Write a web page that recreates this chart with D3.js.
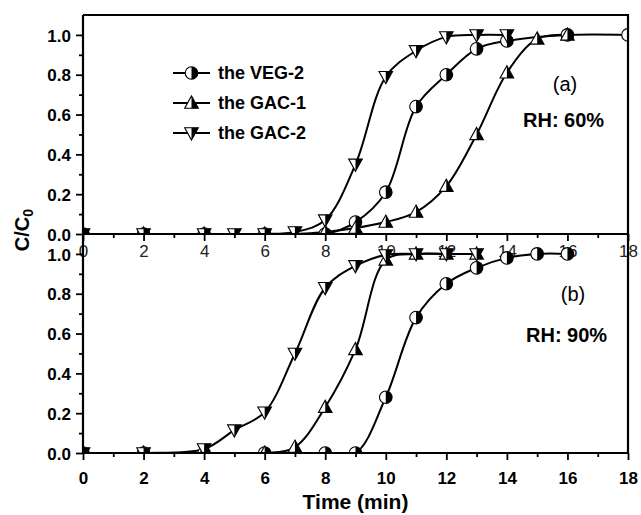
<!DOCTYPE html>
<html>
<head>
<meta charset="utf-8">
<script src="https://cdn.jsdelivr.net/npm/d3@7"></script>
<style>
  html, body { margin: 0; padding: 0; background: #fff; }
  svg { display: block; font-family: "Liberation Sans", Arial, sans-serif; }
</style>
</head>
<body>
<svg id="chart" width="641" height="515"></svg>
<script>
// Breakthrough curves, time in minutes vs C/C0
const xTicks = [0, 2, 4, 6, 8, 10, 12, 14, 16, 18];
const yTicks = [0.0, 0.2, 0.4, 0.6, 0.8, 1.0];
const seriesNames = ["the VEG-2", "the GAC-1", "the GAC-2"];

// Panel (a): RH 60%
const vegA_t = [0, 2, 4, 6, 8, 9, 10, 11, 12, 13, 14, 16, 18];
const vegA_c = [0, 0, 0, 0, 0, 0.06, 0.21, 0.64, 0.80, 0.93, 0.97, 1.0, 1.0];
const gac1A_t = [0, 2, 4, 6, 7, 8, 9, 10, 11, 12, 13, 14, 15, 16];
const gac1A_c = [0, 0, 0, 0, 0, 0.01, 0.03, 0.06, 0.11, 0.24, 0.50, 0.81, 0.98, 1.0];
const gac2A_t = [0, 2, 4, 5, 6, 7, 8, 9, 10, 11, 12, 13, 14];
const gac2A_c = [0, 0, 0, 0, 0, 0.01, 0.07, 0.35, 0.79, 0.92, 0.99, 1.0, 1.0];

// Panel (b): RH 90%
const vegB_t = [0, 2, 4, 6, 8, 9, 10, 11, 12, 13, 14, 15, 16];
const vegB_c = [0, 0, 0, 0, 0, 0, 0.28, 0.68, 0.85, 0.93, 0.98, 1.0, 1.0];
const gac1B_t = [0, 2, 4, 6, 7, 8, 9, 10, 11, 12, 13];
const gac1B_c = [0, 0, 0, 0, 0.03, 0.23, 0.52, 0.97, 1.0, 1.0, 1.0];
const gac2B_t = [0, 2, 4, 5, 6, 7, 8, 9, 10, 11, 12, 13];
const gac2B_c = [0, 0, 0.02, 0.115, 0.205, 0.50, 0.83, 0.94, 0.995, 1.0, 1.0, 1.0];

const svg = d3.select("#chart");
const FONT = "'Liberation Sans', Arial, sans-serif";

const x = d3.scaleLinear().domain([0, 18]).range([83, 628]);
const panels = [
  { id: "a", y: d3.scaleLinear().domain([0, 1.1]).range([234, 15]),
    label: "(a)", rh: "RH: 60%", labelPos: [565, 91], rhPos: [523, 127],
    series: [
      { name: seriesNames[0], t: vegA_t, c: vegA_c, shape: "circle" },
      { name: seriesNames[1], t: gac1A_t, c: gac1A_c, shape: "up" },
      { name: seriesNames[2], t: gac2A_t, c: gac2A_c, shape: "down" }
    ] },
  { id: "b", y: d3.scaleLinear().domain([0, 1.1]).range([453, 234]),
    label: "(b)", rh: "RH: 90%", labelPos: [573, 301], rhPos: [526, 342],
    series: [
      { name: seriesNames[0], t: vegB_t, c: vegB_c, shape: "circle" },
      { name: seriesNames[1], t: gac1B_t, c: gac1B_c, shape: "up" },
      { name: seriesNames[2], t: gac2B_t, c: gac2B_c, shape: "down" }
    ] }
];

// Half-filled marker shapes: white outline shape with its right half in black
const markerShapes = {
  circle: { full: "M6.3,0A6.3,6.3 0 1,1 -6.3,0A6.3,6.3 0 1,1 6.3,0Z", half: "M0,-6.3A6.3,6.3 0 0,1 0,6.3Z" },
  up:     { full: "M0,-7L6.8,5.2L-6.8,5.2Z", half: "M0,-7L6.8,5.2L0,5.2Z" },
  down:   { full: "M0,7L6.8,-5.2L-6.8,-5.2Z", half: "M0,7L6.8,-5.2L0,-5.2Z" }
};

function drawMarker(g, shape, cx, cy) {
  const m = g.append("g").attr("transform", `translate(${cx},${cy})`);
  m.append("path").attr("d", markerShapes[shape].full)
    .attr("fill", "#fff").attr("stroke", "none");
  m.append("path").attr("d", markerShapes[shape].half)
    .attr("fill", "#000").attr("stroke", "none");
  m.append("path").attr("d", markerShapes[shape].full)
    .attr("fill", "none").attr("stroke", "#000").attr("stroke-width", 1.1);
}

const line = (y) => d3.line()
  .x(d => x(d[0])).y(d => y(d[1]))
  .curve(d3.curveCatmullRom.alpha(0.5));

panels.forEach(p => {
  const y = p.y;
  const clipId = "clip-" + p.id;
  svg.append("clipPath").attr("id", clipId)
    .append("rect")
    .attr("x", x(0)).attr("y", y.range()[1])
    .attr("width", x(18) - x(0)).attr("height", y.range()[0] - y.range()[1]);

  const plot = svg.append("g").attr("clip-path", `url(#${clipId})`);

  p.series.forEach(s => {
    const pts = s.t.map((t, i) => [t, s.c[i]]);
    plot.append("path").datum(pts)
      .attr("d", line(y))
      .attr("fill", "none").attr("stroke", "#000").attr("stroke-width", 2);
  });
  p.series.forEach(s => {
    s.t.forEach((t, i) => drawMarker(plot, s.shape, x(t), y(s.c[i])));
  });

  // Y axis: major and minor ticks
  const yMinor = d3.range(0.1, 1.05, 0.2);
  svg.append("g").attr("transform", `translate(${x(0)},0)`)
    .call(d3.axisLeft(y).tickValues(yMinor).tickSize(4).tickSizeOuter(0).tickFormat(""))
    .call(g => g.select(".domain").remove())
    .call(g => g.selectAll("line").attr("stroke-width", 1.8));
  svg.append("g").attr("transform", `translate(${x(0)},0)`)
    .call(d3.axisLeft(y).tickValues(yTicks).tickSize(7).tickSizeOuter(0)
      .tickFormat(d3.format(".1f")).tickPadding(5))
    .call(g => g.select(".domain").remove())
    .call(g => g.selectAll("line").attr("stroke-width", 1.8))
    .call(g => g.selectAll("text")
      .attr("font-family", FONT).attr("font-size", 17).attr("font-weight", "bold")
      .attr("fill", "#000").attr("dy", "0.36em"));

  // X axis for this panel
  const xMinor = d3.range(1, 18, 2);
  const base = y(0);
  svg.append("g").attr("transform", `translate(0,${base})`)
    .call(d3.axisBottom(x).tickValues(xMinor).tickSize(4).tickSizeOuter(0).tickFormat(""))
    .call(g => g.select(".domain").remove())
    .call(g => g.selectAll("line").attr("stroke-width", 1.8));
  const isBottom = p.id === "b";
  svg.append("g").attr("transform", `translate(0,${base})`)
    .call(d3.axisBottom(x).tickValues(xTicks).tickSize(7).tickSizeOuter(0)
      .tickFormat(d3.format("d")).tickPadding(isBottom ? 12 : 4))
    .call(g => g.select(".domain").remove())
    .call(g => g.selectAll("line").attr("stroke-width", 1.8))
    .call(g => g.selectAll("text")
      .attr("font-family", FONT).attr("font-size", 17)
      .attr("font-weight", isBottom ? "bold" : "normal")
      .attr("fill", isBottom ? "#000" : "#222"));

  // Panel annotations
  svg.append("text").attr("x", p.labelPos[0]).attr("y", p.labelPos[1])
    .attr("text-anchor", "middle").attr("font-family", FONT)
    .attr("font-size", 20).text(p.label);
  svg.append("text").attr("x", p.rhPos[0]).attr("y", p.rhPos[1])
    .attr("font-family", FONT).attr("font-size", 20).attr("font-weight", "bold")
    .text(p.rh);
});

// Frame and axis lines
const yTop = panels[0].y, yBot = panels[1].y;
svg.append("path")
  .attr("d", `M${x(0)},${yTop.range()[1]}H${x(18)}V${yBot(0)}`)
  .attr("fill", "none").attr("stroke", "#000").attr("stroke-width", 2.2);
svg.append("line")
  .attr("x1", x(0)).attr("x2", x(0)).attr("y1", yTop.range()[1]).attr("y2", yBot(0))
  .attr("stroke", "#000").attr("stroke-width", 2.2);
[yTop(0), yBot(0)].forEach(yy => {
  svg.append("line").attr("x1", x(0)).attr("x2", x(18)).attr("y1", yy).attr("y2", yy)
    .attr("stroke", "#000").attr("stroke-width", 2.2);
});

// Legend
const legendRows = [
  { name: seriesNames[0], shape: "circle", y: 73 },
  { name: seriesNames[1], shape: "up", y: 103 },
  { name: seriesNames[2], shape: "down", y: 133 }
];
const lg = svg.append("g");
legendRows.forEach(r => {
  lg.append("line").attr("x1", 173).attr("x2", 210).attr("y1", r.y).attr("y2", r.y)
    .attr("stroke", "#000").attr("stroke-width", 2);
  drawMarker(lg, r.shape, 191.5, r.y);
  lg.append("text").attr("x", 218).attr("y", r.y).attr("dy", "0.36em")
    .attr("font-family", FONT).attr("font-size", 18).attr("font-weight", "bold")
    .text(r.name);
});

// Axis titles
svg.append("text")
  .attr("x", (x(0) + x(18)) / 2).attr("y", 509)
  .attr("text-anchor", "middle").attr("font-family", FONT)
  .attr("font-size", 21).attr("font-weight", "bold").text("Time (min)");

const yl = svg.append("text")
  .attr("transform", "translate(29,230) rotate(-90)")
  .attr("text-anchor", "middle").attr("font-family", FONT)
  .attr("font-size", 20).attr("font-weight", "bold");
yl.append("tspan").text("C/C");
yl.append("tspan").attr("dy", "0.3em").attr("font-size", 14).text("0");
</script>
</body>
</html>
